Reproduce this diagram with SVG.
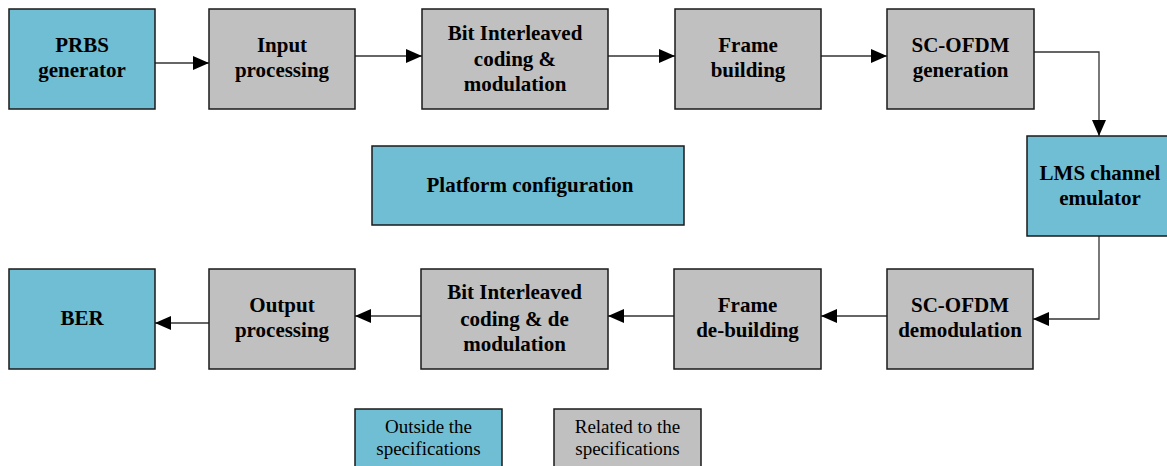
<svg xmlns="http://www.w3.org/2000/svg" width="1167" height="466" viewBox="0 0 1167 466">
<defs>
<marker id="ah" viewBox="0 0 16 14" refX="16" refY="7" markerWidth="16" markerHeight="14" markerUnits="userSpaceOnUse" orient="auto">
<path d="M0,0 L16,7 L0,14 Z" fill="#000"/>
</marker>
<style>
.teal{fill:#70BED3;stroke:#1a1a1a;stroke-width:1.5}
.grey{fill:#C0C0C0;stroke:#1a1a1a;stroke-width:1.5}
.t{font-family:"Liberation Serif","Times New Roman",serif;font-weight:bold;font-size:21px;fill:#000;text-anchor:middle}
.l{font-family:"Liberation Serif","Times New Roman",serif;font-size:19px;fill:#000;text-anchor:middle}
.c{fill:none;stroke:#333;stroke-width:1.3;marker-end:url(#ah)}
</style>
</defs>
<rect width="1167" height="466" fill="#fff"/>
<g id="connectors">
<path class="c" d="M155,63 H209"/>
<path class="c" d="M355,56 H422"/>
<path class="c" d="M608,56 H675"/>
<path class="c" d="M821,56 H887"/>
<path class="c" d="M1034,52 H1099 V136"/>
<path class="c" d="M1099,236 V319 H1033"/>
<path class="c" d="M887,316 H821"/>
<path class="c" d="M674,316 H608"/>
<path class="c" d="M421,316 H355"/>
<path class="c" d="M209,323 H155"/>
</g>
<g id="prbs"><rect class="teal" x="9" y="9" width="146" height="100"/><text class="t" x="82" y="52">PRBS</text><text class="t" x="82" y="77">generator</text></g>
<g id="input"><rect class="grey" x="209" y="9" width="146" height="100"/><text class="t" x="282" y="52">Input</text><text class="t" x="282" y="77">processing</text></g>
<g id="bicm"><rect class="grey" x="422" y="9" width="186" height="100"/><text class="t" x="515" y="39.5">Bit Interleaved</text><text class="t" x="515" y="65.5">coding &amp;</text><text class="t" x="515" y="91">modulation</text></g>
<g id="frame"><rect class="grey" x="675" y="9" width="146" height="100"/><text class="t" x="748" y="52">Frame</text><text class="t" x="748" y="77">building</text></g>
<g id="scofdm-gen"><rect class="grey" x="887" y="9" width="147" height="100"/><text class="t" x="960.5" y="52">SC-OFDM</text><text class="t" x="960.5" y="77">generation</text></g>
<g id="lms"><rect class="teal" x="1027" y="136" width="146" height="100"/><text class="t" x="1100" y="180">LMS channel</text><text class="t" x="1100" y="204.5">emulator</text></g>
<g id="platform"><rect class="teal" x="372" y="146" width="312" height="79"/><text class="t" x="530" y="192">Platform configuration</text></g>
<g id="scofdm-demod"><rect class="grey" x="887" y="269" width="146" height="100"/><text class="t" x="960" y="312">SC-OFDM</text><text class="t" x="960" y="337">demodulation</text></g>
<g id="frame-de"><rect class="grey" x="674" y="269" width="147" height="100"/><text class="t" x="747.5" y="312">Frame</text><text class="t" x="747.5" y="337">de-building</text></g>
<g id="bicm-de"><rect class="grey" x="421" y="269" width="187" height="100"/><text class="t" x="514.5" y="299">Bit Interleaved</text><text class="t" x="514.5" y="325.5">coding &amp; de</text><text class="t" x="514.5" y="351">modulation</text></g>
<g id="output"><rect class="grey" x="209" y="269" width="146" height="100"/><text class="t" x="282" y="312">Output</text><text class="t" x="282" y="337">processing</text></g>
<g id="ber"><rect class="teal" x="9" y="269" width="146" height="100"/><text class="t" x="82" y="325">BER</text></g>
<g id="legend-outside"><rect class="teal" x="355" y="409" width="147" height="62"/><text class="l" x="428.5" y="433">Outside the</text><text class="l" x="428.5" y="455">specifications</text></g>
<g id="legend-related"><rect class="grey" x="554" y="409" width="147" height="62"/><text class="l" x="627.5" y="433">Related to the</text><text class="l" x="627.5" y="455">specifications</text></g>
</svg>
